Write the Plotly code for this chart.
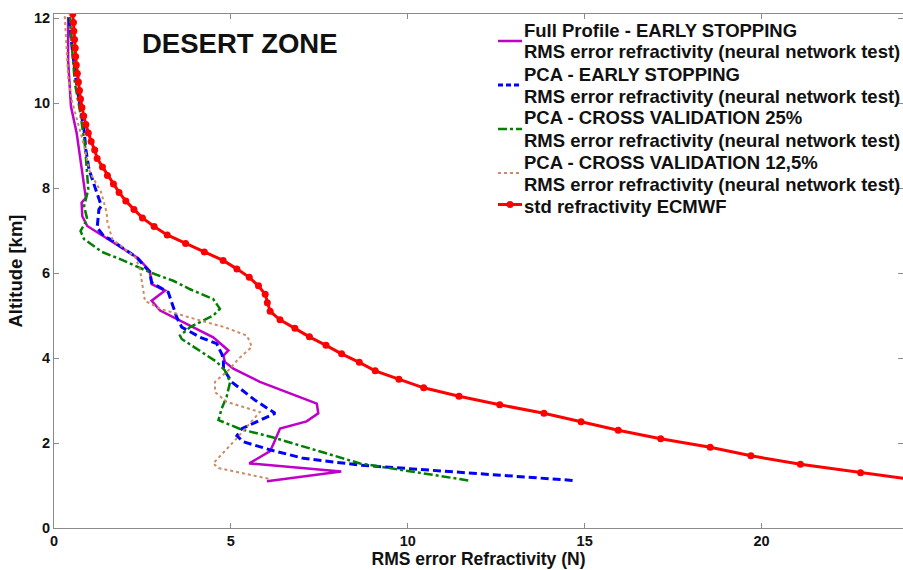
import plotly.graph_objects as go

# Altitude (km) / RMS error of refractivity (N) for each profile
alt_full = [1.10, 1.33, 1.52, 1.81, 2.03, 2.34, 2.51, 2.70, 2.93, 3.20, 3.44, 3.75, 3.91, 4.06, 4.18,
            4.49, 4.76, 5.12, 5.35, 5.59, 5.74, 6.05, 6.35, 6.62, 7.11, 7.34, 7.66, 7.77, 8.36, 8.98,
            9.30, 9.92, 11.00, 12.03]
rms_full = [6.02, 8.12, 5.52, 6.11, 6.23, 6.39, 7.14, 7.47, 7.43, 6.58, 5.82, 5.07, 4.83, 4.79, 4.93,
            4.50, 3.84, 3.00, 2.76, 3.14, 2.76, 2.71, 2.38, 1.88, 0.94, 0.80, 0.78, 0.90, 0.80, 0.71,
            0.64, 0.48, 0.40, 0.40]

alt_pca_es = [1.12, 1.41, 1.48, 1.64, 1.84, 2.03, 2.17, 2.34, 2.70, 3.01, 3.44, 3.75, 3.98, 4.10, 4.34,
              4.49, 4.73, 4.96, 5.31, 5.55, 5.78, 6.02, 6.37, 6.80, 6.87, 7.07, 7.50, 7.58, 7.97, 8.44,
              8.91, 9.37, 9.84, 10.62, 11.25, 12.07]
rms_pca_es = [14.66, 9.78, 8.65, 7.05, 6.11, 5.35, 5.17, 5.31, 6.25, 5.68, 5.02, 4.79, 4.79, 4.74, 4.60,
              4.13, 3.61, 3.47, 3.33, 3.23, 2.76, 2.71, 2.34, 1.58, 1.41, 1.22, 1.27, 1.34, 1.18, 0.99,
              0.90, 0.85, 0.75, 0.61, 0.52, 0.42]

alt_cv25 = [1.12, 1.52, 2.13, 2.33, 2.54, 2.81, 3.09, 3.44, 3.71, 3.91, 4.45, 4.53, 4.73, 4.84, 5.00,
            5.16, 5.39, 5.62, 5.82, 6.02, 6.33, 6.50, 6.80, 6.99, 7.27, 7.58, 7.97, 8.51, 8.98, 9.84,
            10.47, 11.40, 12.03]
rms_cv25 = [11.71, 8.65, 6.20, 5.26, 4.65, 4.74, 4.88, 4.98, 4.83, 4.60, 3.61, 3.56, 3.85, 4.13, 4.50,
            4.69, 4.50, 3.85, 3.37, 2.71, 1.87, 1.35, 0.85, 0.75, 0.94, 0.85, 0.97, 0.92, 0.88, 0.73,
            0.59, 0.50, 0.45]

alt_cv125 = [1.16, 1.41, 1.52, 2.07, 2.73, 2.97, 3.20, 3.44, 3.75, 3.98, 4.26, 4.38, 4.53, 4.72, 4.94,
             5.16, 5.35, 5.86, 6.09, 6.37, 6.80, 7.19, 7.42, 7.73, 7.93, 8.36, 9.06, 10.08, 10.62, 11.95,
             12.10]
rms_cv125 = [6.06, 4.65, 4.50, 5.12, 5.82, 4.88, 4.55, 4.55, 4.98, 5.21, 5.59, 5.54, 5.45, 4.85, 3.90,
             3.00, 2.57, 2.48, 2.43, 2.30, 1.65, 1.51, 1.49, 1.39, 1.32, 1.02, 0.83, 0.50, 0.40, 0.31,
             0.30]

alt_ecmwf = [1.1, 1.3, 1.5, 1.7, 1.9, 2.1, 2.3, 2.5, 2.7, 2.9, 3.1, 3.3, 3.5, 3.7, 3.9, 4.1, 4.3, 4.5,
             4.7, 4.9, 5.1, 5.3, 5.5, 5.7, 5.9, 6.1, 6.3, 6.5, 6.7, 6.9, 7.1, 7.3, 7.5, 7.7, 7.9, 8.1,
             8.3, 8.5, 8.7, 8.9, 9.1, 9.3, 9.5, 9.7, 9.9, 10.1, 10.3, 10.5, 10.7, 10.9, 11.1, 11.3,
             11.5, 11.7, 11.9, 12.1]
std_ecmwf = [24.6, 22.8, 21.1, 19.7, 18.55, 17.15, 15.95, 14.9, 13.85, 12.6, 11.45, 10.45, 9.75, 9.08,
             8.63, 8.13, 7.69, 7.22, 6.81, 6.39, 6.11, 6.03, 5.97, 5.78, 5.52, 5.17, 4.78, 4.25, 3.72,
             3.20, 2.83, 2.50, 2.26, 2.03, 1.84, 1.68, 1.51, 1.37, 1.22, 1.15, 1.05, 0.97, 0.90, 0.84,
             0.79, 0.75, 0.72, 0.69, 0.66, 0.63, 0.61, 0.60, 0.58, 0.56, 0.55, 0.53]

x_ticks = [0, 5, 10, 15, 20]
y_ticks = [0, 2, 4, 6, 8, 10, 12]

SUB = "RMS error refractivity (neural network test)"
legend_labels = [
    ["Full Profile - EARLY STOPPING", SUB],
    ["PCA - EARLY STOPPING", SUB],
    ["PCA - CROSS VALIDATION 25%", SUB],
    ["PCA - CROSS VALIDATION 12,5%", SUB],
    ["std refractivity ECMWF"],
]

FONT = "Liberation Sans, Arial, Helvetica, sans-serif"
INK = "#111111"

styles = [
    dict(color="#BF00C8", width=2.5),
    dict(color="#0000FF", width=3, dash="8px,4px"),
    dict(color="#008000", width=2.5, dash="dashdot"),
    dict(color="#CC8A66", width=2, dash="dot"),
    dict(color="#FF0000", width=3),
]
series = [(rms_full, alt_full), (rms_pca_es, alt_pca_es), (rms_cv25, alt_cv25),
          (rms_cv125, alt_cv125), (std_ecmwf, alt_ecmwf)]

fig = go.Figure()
for i, ((xs, ys), st) in enumerate(zip(series, styles)):
    with_markers = i == len(series) - 1
    fig.add_trace(go.Scatter(
        x=xs, y=ys, mode="lines+markers" if with_markers else "lines",
        name=" ".join(legend_labels[i]), showlegend=False,
        line=st,
        marker=dict(color=st["color"], size=7, symbol="circle") if with_markers else None))

# Plot-area geometry in pixels, used to place the hand-built legend
W, H = 903, 570
ML, MR, MT, MB = 54, 0, 14, 42
PW, PH = W - ML - MR, H - MT - MB


def px(xp):
    return (xp - ML) / PW


def py(yp):
    return (H - MB - yp) / PH


shapes = []
annotations = []
LINE_H = 22
row = 0
top = 30
for i, lines in enumerate(legend_labels):
    first = top + row * LINE_H
    for j, txt in enumerate(lines):
        annotations.append(dict(
            text=txt, x=px(522), y=py(first + j * LINE_H), xref="paper", yref="paper",
            xanchor="left", yanchor="middle", showarrow=False,
            font=dict(family=FONT, size=18.5, color=INK, weight="bold")))
    sample_y = first + (LINE_H / 2 if len(lines) > 1 else -1.5)
    st = styles[i]
    sample_dash = {"8px,4px": "5px,3px"}.get(st.get("dash"), st.get("dash", "solid"))
    shapes.append(dict(type="line", xref="paper", yref="paper",
                       x0=px(498), x1=px(522), y0=py(sample_y), y1=py(sample_y),
                       line=dict(color=st["color"], width=st["width"], dash=sample_dash)))
    if i == len(legend_labels) - 1:
        shapes.append(dict(type="circle", xref="paper", yref="paper",
                           x0=px(506.5), x1=px(513.5), y0=py(sample_y - 3.5), y1=py(sample_y + 3.5),
                           fillcolor=st["color"], line=dict(color=st["color"], width=0)))
    row += len(lines)

annotations.append(dict(text="DESERT ZONE", x=px(240), y=py(43), xref="paper", yref="paper",
                        xanchor="center", yanchor="middle", showarrow=False,
                        font=dict(family=FONT, size=27.5, color=INK, weight="bold")))

axis_common = dict(showline=True, linecolor="#8a8a8a", linewidth=1, mirror="ticks",
                   ticks="inside", ticklen=5, tickcolor="#8a8a8a", showgrid=False,
                   zeroline=False,
                   tickfont=dict(family=FONT, size=14.5, color=INK, weight="bold"))

fig.update_layout(
    width=W, height=H,
    margin=dict(l=ML, r=MR, t=MT, b=MB),
    paper_bgcolor="white", plot_bgcolor="white",
    font=dict(family=FONT, color=INK),
    xaxis=dict(range=[0, 24], tickvals=x_ticks, **axis_common,
               title=dict(text="RMS error Refractivity (N)", standoff=4,
                          font=dict(family=FONT, size=17.5, color=INK, weight="bold"))),
    yaxis=dict(range=[0, 12.1], tickvals=y_ticks, **axis_common,
               title=dict(text="Altitude [km]", standoff=6,
                          font=dict(family=FONT, size=18.5, color=INK, weight="bold"))),
    showlegend=False,
    shapes=shapes,
    annotations=annotations,
)

fig.write_html("out.html")
